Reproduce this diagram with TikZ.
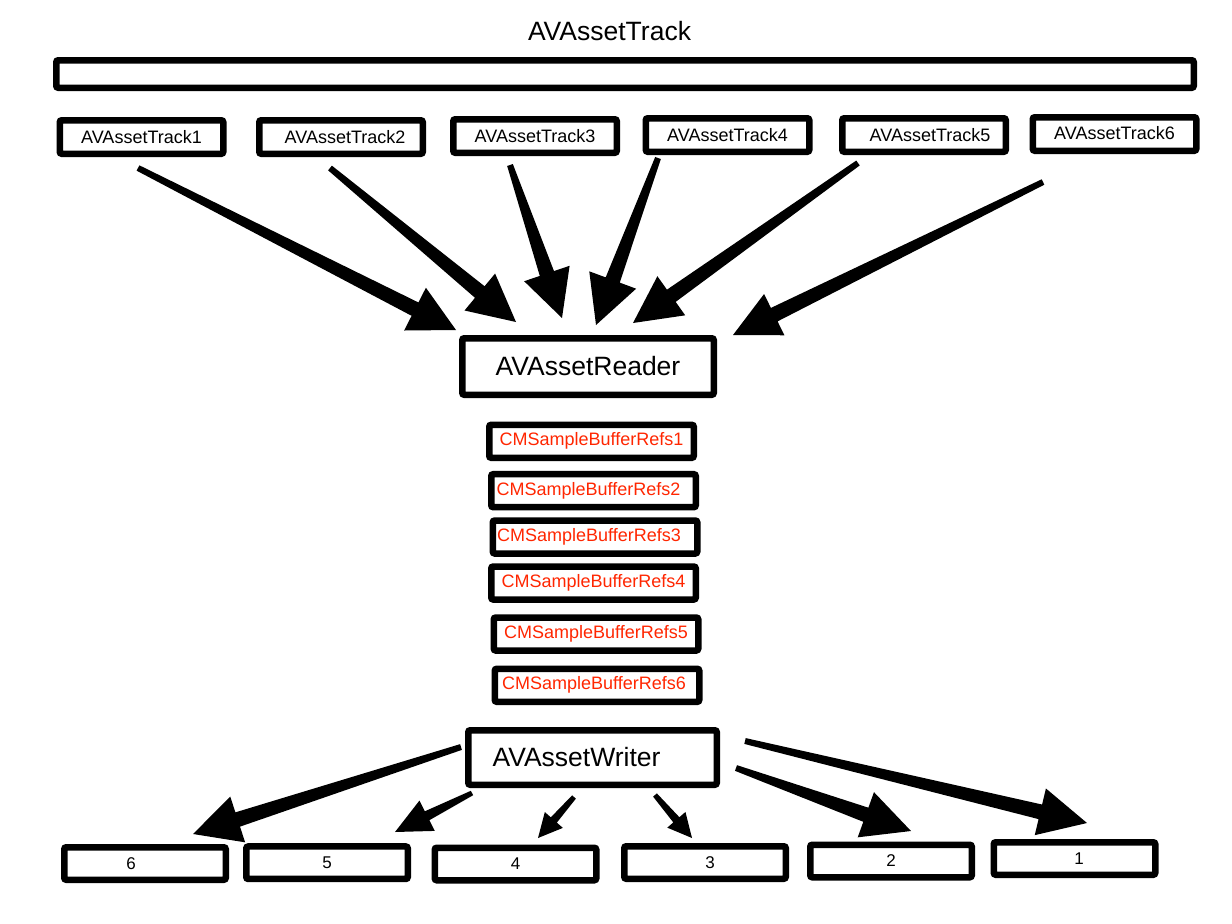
\documentclass[tikz,border=0pt]{standalone}
\usepackage{fontspec}
\setmainfont{Liberation Sans}
\usetikzlibrary{calc}
\definecolor{cmred}{RGB}{255,38,0}
\tikzset{
  box/.style={draw=black, line width=6.5pt, rounded corners=2pt, fill=white, inner sep=0pt},
  trackbox/.style={box, minimum width=163.5pt, minimum height=33.5pt, font=\fontsize{18}{21}\selectfont},
  bigbox/.style={box, minimum width=251.5pt, minimum height=56.5pt, font=\fontsize{26.5}{31}\selectfont},
  cmbox/.style={box, minimum width=204.5pt, minimum height=33pt, text=cmred, font=\fontsize{18}{21}\selectfont},
  numbox/.style={box, minimum width=161.5pt, minimum height=32.5pt, font=\fontsize{17}{20}\selectfont},
  arrowfill/.style={fill=black},
}
% #1 start, #2 tip, #3 start half width, #4 shaft end half width, #5 head length, #6 head half width
\newcommand\tarrow[6]{%
  \coordinate (tmphb) at ($(#2)!#5!(#1)$);
  \fill[arrowfill] ($(#1)!#3!90:(#2)$) -- ($(tmphb)!#4!-90:(#1)$) -- ($(tmphb)!#6!-90:(#1)$) -- (#2)
     -- ($(tmphb)!#6!90:(#1)$) -- ($(tmphb)!#4!90:(#1)$) -- ($(#1)!#3!-90:(#2)$) -- cycle;
}
\begin{document}
\begin{tikzpicture}[x=1pt,y=-1pt]
\useasboundingbox (0,0) rectangle (1232,924);
\fill[white] (0,0) rectangle (1232,924);

\node (title) at (609.5,31) {\fontsize{26.5}{31}\selectfont AVAssetTrack};
\node[box, minimum width=1137.5pt, minimum height=27.5pt] (bar) at (625,74) {};

\node[trackbox] (t1) at (141.5,137) {AVAssetTrack1};
\node[trackbox] (t2) at (341,137) {\hspace*{8pt}AVAssetTrack2};
\node[trackbox] (t3) at (535,136) {AVAssetTrack3};
\node[trackbox] (t4) at (727.5,135) {AVAssetTrack4};
\node[trackbox] (t5) at (924,135) {\hspace*{12pt}AVAssetTrack5};
\node[trackbox] (t6) at (1114.5,134) {\raisebox{1.5pt}{AVAssetTrack6}};

\node[bigbox] (reader) at (588,366.5) {AVAssetReader};

\node[cmbox] (c1) at (591.5,441.3) {CMSampleBufferRefs1};
\node[cmbox] (c2) at (593.5,490.7) {\hspace*{-10pt}CMSampleBufferRefs2};
\node[cmbox] (c3) at (595,537) {\hspace*{-12pt}CMSampleBufferRefs3};
\node[cmbox] (c4) at (593.5,583) {CMSampleBufferRefs4};
\node[cmbox] (c5) at (596,634) {CMSampleBufferRefs5};
\node[cmbox] (c6) at (597,685.3) {\hspace*{-6pt}CMSampleBufferRefs6};

\node[bigbox, minimum width=248.5pt, minimum height=54.5pt] (writer) at (592.5,757.5) {\hspace*{-32pt}AVAssetWriter};

\node[numbox] (b6) at (145,863.5) {\hspace*{-28pt}6};
\node[numbox] (b5) at (327,862.7) {5};
\node[numbox] (b4) at (515.5,864) {\raisebox{-3pt}{4}};
\node[numbox] (b3) at (705,862.5) {\hspace*{10pt}3};
\node[numbox] (b2) at (891,861) {2};
\node[numbox] (b1) at (1074.5,858.5) {\hspace*{9pt}\raisebox{-6pt}{1}};

% arrow end points
\coordinate (a1s) at (138,168);  \coordinate (a1t) at (456,330);
\coordinate (a2s) at (330,168);  \coordinate (a2t) at (516,322);
\coordinate (a3s) at (510,165);  \coordinate (a3t) at (562,318);
\coordinate (a4s) at (658,158);  \coordinate (a4t) at (596,325);
\coordinate (a5s) at (858,163);  \coordinate (a5t) at (633,323);
\coordinate (a6s) at (1043,182); \coordinate (a6t) at (733,335);

\coordinate (w6s) at (461,747);  \coordinate (w6t) at (193,834);
\coordinate (w5s) at (472,793);  \coordinate (w5t) at (395,832);
\coordinate (w4s) at (574,797);  \coordinate (w4t) at (538,838);
\coordinate (w3s) at (655,795);  \coordinate (w3t) at (692,838);
\coordinate (w2s) at (736,768);  \coordinate (w2t) at (911,831);
\coordinate (w1s) at (745,741);  \coordinate (w1t) at (1087,823);

\tarrow{a1s}{a1t}{3pt}{7.5pt}{46pt}{24pt}
\tarrow{a2s}{a2t}{3pt}{7.5pt}{47pt}{24pt}
\tarrow{a3s}{a3t}{3pt}{7.5pt}{47pt}{24pt}
\tarrow{a4s}{a4t}{3pt}{7.5pt}{48pt}{25pt}
\tarrow{a5s}{a5t}{3pt}{7.5pt}{47pt}{24pt}
\tarrow{a6s}{a6t}{3pt}{7.5pt}{46pt}{23pt}

\tarrow{w6s}{w6t}{3pt}{7.5pt}{47pt}{24pt}
\tarrow{w5s}{w5t}{2.5pt}{5pt}{36pt}{17pt}
\tarrow{w4s}{w4t}{2.5pt}{4pt}{24pt}{12pt}
\tarrow{w3s}{w3t}{2.5pt}{4pt}{24pt}{12pt}
\tarrow{w2s}{w2t}{3pt}{7.5pt}{48pt}{24pt}
\tarrow{w1s}{w1t}{3pt}{7.5pt}{48pt}{24pt}
\end{tikzpicture}
\end{document}
